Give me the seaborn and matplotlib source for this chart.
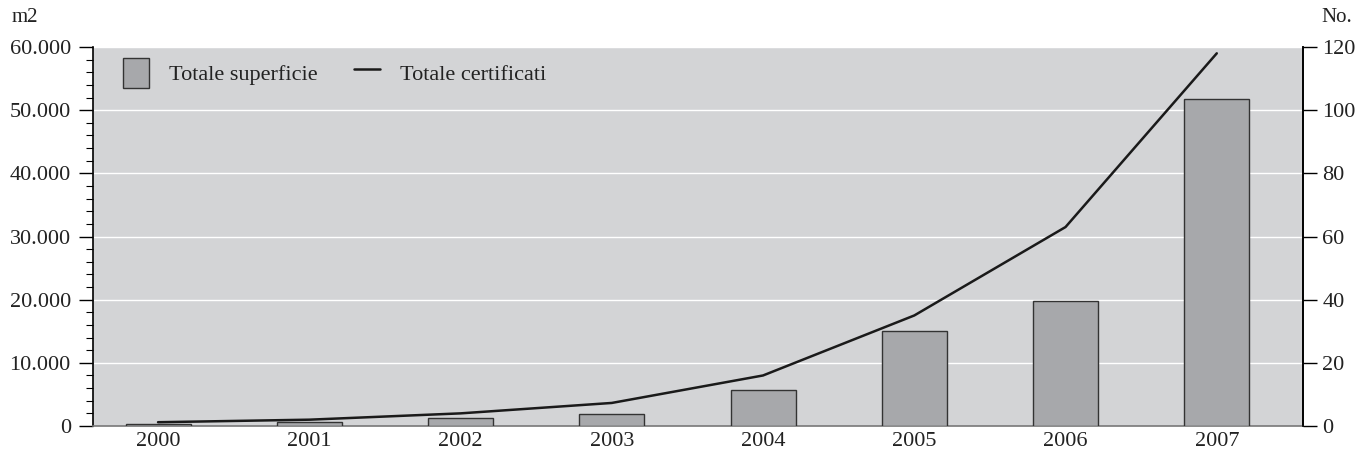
import numpy as np
import pandas as pd
import matplotlib
matplotlib.use("Agg")
import matplotlib.pyplot as plt
import matplotlib.ticker as mticker
from matplotlib.patches import Patch
from matplotlib.lines import Line2D
import seaborn as sns

years = ["2000", "2001", "2002", "2003", "2004", "2005", "2006", "2007"]
superficie = [300, 700, 1200, 1850, 5650, 15000, 19800, 51750]
certificati = [1.2, 2, 4, 7.3, 16, 35, 63, 118]

sns.set_theme(style="white")
plt.rcParams["font.family"] = ["Liberation Serif", "DejaVu Serif"]

BG = "#d3d4d6"
BAR = "#a7a8ab"

fig = plt.figure(figsize=(13.55, 4.70), dpi=100)
ax = fig.add_axes([93/1355, 44/470, (1303-93)/1355, (426-47)/470])
ax.set_facecolor(BG)

df = pd.DataFrame({"anno": years, "sup": superficie})
sns.barplot(data=df, x="anno", y="sup", color=BAR, width=0.43, saturation=1,
            edgecolor="#333333", linewidth=1.0, ax=ax, zorder=3)

ax.set_ylim(0, 60000)
ax.set_xlim(-0.43, 7.57)
ax.yaxis.set_major_locator(mticker.MultipleLocator(10000))
ax.yaxis.set_minor_locator(mticker.MultipleLocator(2000))
ax.yaxis.set_major_formatter(mticker.FuncFormatter(lambda v, p: f"{int(v):,}".replace(",", ".")))
ax.grid(axis="y", color="white", linewidth=1.0, zorder=0)
ax.set_axisbelow(True)
ax.set_xlabel("")
ax.set_ylabel("")

ax.spines["top"].set_visible(False)
ax.spines["left"].set_color("black")
ax.spines["left"].set_linewidth(1.2)
ax.spines["right"].set_color("black")
ax.spines["right"].set_linewidth(1.2)
ax.spines["bottom"].set_color("#777777")
ax.spines["bottom"].set_linewidth(1.2)

ax.tick_params(axis="y", which="major", direction="out", length=10, width=1.0,
               color="black", left=True, labelsize=16, pad=6)
ax.tick_params(axis="y", which="minor", direction="out", length=5, width=0.8,
               color="black", left=True)
ax.tick_params(axis="x", length=0, labelsize=16, pad=4)
for lbl in ax.get_yticklabels() + ax.get_xticklabels():
    lbl.set_color("#222222")

ax2 = ax.twinx()
sns.lineplot(x=np.arange(len(years)), y=certificati, color="#1a1a1a", linewidth=1.8, ax=ax2, zorder=4)
ax2.set_ylim(0, 120)
ax2.yaxis.set_major_locator(mticker.MultipleLocator(20))
ax2.tick_params(axis="y", direction="out", length=10, width=1.0, color="black",
                right=True, labelsize=16, pad=4)
for lbl in ax2.get_yticklabels():
    lbl.set_color("#222222")
for s in ["top", "left", "bottom"]:
    ax2.spines[s].set_visible(False)
ax2.spines["right"].set_color("black")
ax2.spines["right"].set_linewidth(1.2)
ax2.set_ylabel("")
ax2.grid(False)

fig.text(12/1355, 1 - 18/470, "m2", fontsize=15, color="#222222", ha="left", va="center")
fig.text(1337/1355, 1 - 18/470, "No.", fontsize=15, color="#222222", ha="center", va="center")

handles = [Patch(facecolor=BAR, edgecolor="#333333", linewidth=1.0),
           Line2D([0], [0], color="#1a1a1a", linewidth=1.8)]
leg = ax2.legend(handles, ["Totale superficie", "Totale certificati"], loc="upper left",
                 ncol=2, frameon=False, fontsize=16, handlelength=1.2, handleheight=1.7,
                 columnspacing=1.6, handletextpad=0.9, bbox_to_anchor=(0.008, 1.025))
for t in leg.get_texts():
    t.set_color("#222222")

fig.savefig("out.png", dpi=100)
